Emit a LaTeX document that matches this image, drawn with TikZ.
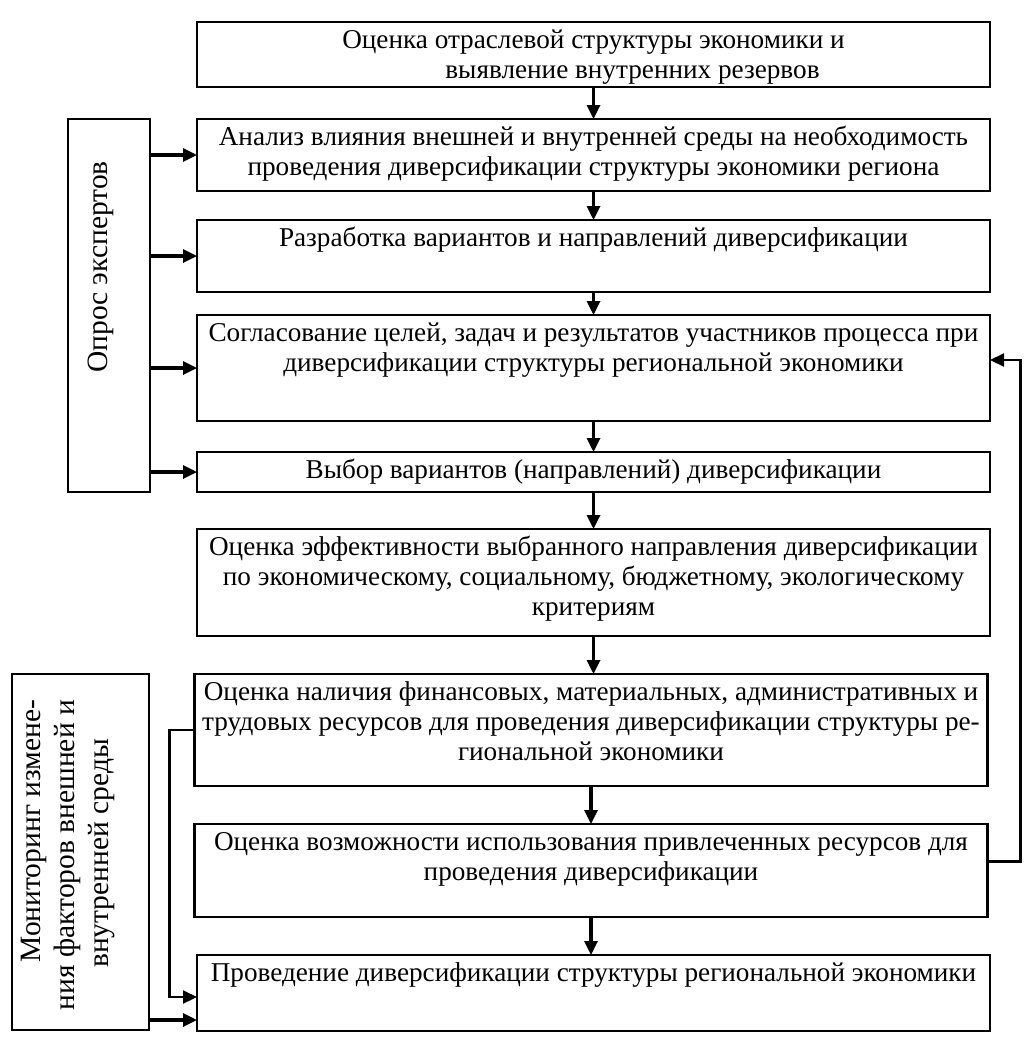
\documentclass[tikz,border=0pt]{standalone}
\usepackage{fontspec}
\setmainfont{Liberation Serif}
\usetikzlibrary{arrows.meta, positioning}

\begin{document}
\begin{tikzpicture}[
    x=1pt, y=-1pt,
    stage/.style={rectangle, draw, line width=2.6pt, minimum width=793pt, minimum height=#1, inner sep=0pt, outer sep=0pt},
    stagetext/.style={align=center, inner sep=0pt, font=\fontsize{27.2}{30}\selectfont},
    side/.style={rectangle, draw, line width=2.6pt, inner sep=0pt, outer sep=0pt},
    sidetext/.style={rotate=90, inner sep=0pt, font=\fontsize{29.5}{34}\selectfont},
    flow/.style={-{Triangle[length=14pt,width=13pt]}, line width=3.2pt},
    backline/.style={-{Triangle[length=14pt,width=13pt]}, line width=2.2pt}
]
    \useasboundingbox (0,0) rectangle (1030,1042);

    % main chain of stages
    \node[stage=65pt] (b1) at (593.5,54.5) {};
    \node[stage=72pt, below=32pt of b1] (b2) {};
    \node[stage=72pt, below=29pt of b2] (b3) {};
    \node[stage=106pt, below=23pt of b3] (b4) {};
    \node[stage=40pt, below=31pt of b4] (b5) {};
    \node[stage=107pt, below=37pt of b5] (b6) {};
    \node[stage=112pt, below=38pt of b6, xshift=-2.5pt] (b7) {};
    \node[stage=93pt, below=38pt of b7] (b8) {};
    \node[stage=76pt, below=38pt of b8, xshift=2.5pt] (b9) {};

    \node[stagetext, below=5pt of b1.north] (t1) {\strut Оценка отраслевой структуры экономики и\\ \hspace*{78pt}выявление внутренних резервов};
    \node[stagetext, below=5pt of b2.north] (t2) {\strut Анализ влияния внешней и внутренней среды на необходимость\\ проведения диверсификации структуры экономики региона};
    \node[stagetext, below=5pt of b3.north] (t3) {\strut Разработка вариантов и направлений диверсификации};
    \node[stagetext, below=5pt of b4.north] (t4) {\strut Согласование целей, задач и результатов участников процесса при\\ диверсификации структуры региональной экономики};
    \node[stagetext, below=5pt of b5.north] (t5) {\strut Выбор вариантов (направлений) диверсификации};
    \node[stagetext, below=5pt of b6.north] (t6) {\strut Оценка эффективности выбранного направления диверсификации\\ по экономическому, социальному, бюджетному, экологическому\\ критериям};
    \node[stagetext, below=5pt of b7.north] (t7) {\strut Оценка наличия финансовых, материальных, административных и\\ трудовых ресурсов для проведения диверсификации структуры ре-\\ гиональной экономики};
    \node[stagetext, below=5pt of b8.north] (t8) {\strut Оценка возможности использования привлеченных ресурсов для\\ проведения диверсификации};
    \node[stagetext, below=5pt of b9.north] (t9) {\strut Проведение диверсификации структуры региональной экономики};

    % side blocks
    \node[side, minimum width=82pt, minimum height=373pt] (opros) at (109,305.5) {};
    \node[sidetext, align=center] (topros) at (101,267) {Опрос экспертов};
    \node[side, minimum width=137pt, minimum height=356pt] (mon) at (80.5,852) {};
    \node[sidetext, align=right] (tmon) at (68,855) {Мониторинг измене-\\ния факторов внешней и\\внутренней среды\hspace*{39pt}};

    % arrows
    \draw[flow] (b1) -- (b2);
    \draw[flow] (b2) -- (b3);
    \draw[flow] (b3) -- (b4);
    \draw[flow] (b4) -- (b5);
    \draw[flow] (b5) -- (b6);
    \draw[flow] (b6.south) -- (b6.south |- b7.north);
    \draw[flow] (b7) -- (b8);
    \draw[flow] (b8.south) -- (b8.south |- b9.north);

    \foreach \b in {b2,b3,b4,b5}
        \draw[flow] (opros.east |- \b.west) -- (\b.west);

    \coordinate (monout) at ([yshift=10pt]mon.south east);
    \draw[flow] (monout) -- (monout -| b9.west);
    \draw[backline] (b7.west) -- ++(-25pt,0) |- ([yshift=-4pt]b9.west);
    \draw[backline] ([yshift=9pt]b8.east) -- ++(33pt,0) |- ([yshift=8pt]b4.east);
\end{tikzpicture}
\end{document}
